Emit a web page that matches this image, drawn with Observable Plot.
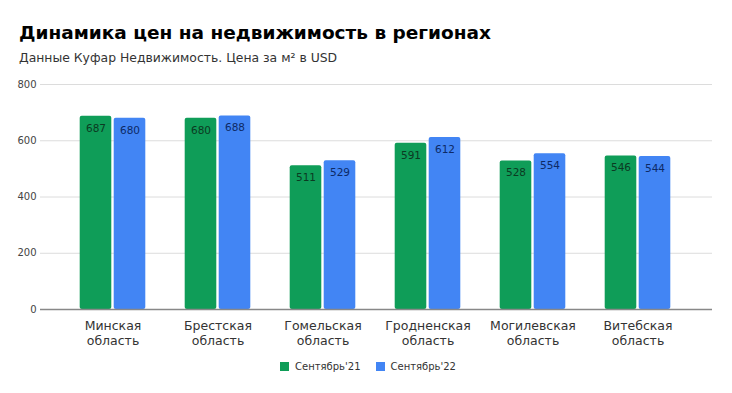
<!DOCTYPE html>
<html>
<head>
<meta charset="utf-8">
<script src="https://cdn.jsdelivr.net/npm/d3@7"></script>
<script src="https://cdn.jsdelivr.net/npm/@observablehq/plot@0.6"></script>
<style>
  body { margin: 0; background: #fff; font-family: "DejaVu Sans", sans-serif; }
  #wrap { width: 732px; height: 393px; position: relative; }
  h1 { position: absolute; left: 19px; top: 22px; margin: 0; font-size: 18.5px; font-weight: bold; color: #000; }
  .sub { position: absolute; left: 19px; top: 50px; margin: 0; font-size: 12.4px; color: #333; }
  #chart { position: absolute; left: 0; top: 70px; }
  .legend { position: absolute; top: 361px; left: 0; width: 732px; display: flex; justify-content: center; gap: 15px; font-size: 10px; color: #333; padding-left: 2px; }
  .legend span { display: inline-flex; align-items: center; }
  .legend i { display: inline-block; width: 9px; height: 9px; margin-right: 6px; }
</style>
</head>
<body>
<div id="wrap">
  <h1>Динамика цен на недвижимость в регионах</h1>
  <div class="sub">Данные Куфар Недвижимость. Цена за м² в USD</div>
  <div id="chart"></div>
  <div class="legend" id="legend"></div>
</div>
<script>
const regions = ["Минская область", "Брестская область", "Гомельская область", "Гродненская область", "Могилевская область", "Витебская область"];
const sep21 = [687, 680, 511, 591, 528, 546];
const sep22 = [680, 688, 529, 612, 554, 544];
const seriesNames = ["Сентябрь'21", "Сентябрь'22"];
const colors = ["#0f9d58", "#4285f4"];
const labelColors = ["#0b3a22", "#0d2a66"];
const yTicks = [0, 200, 400, 600, 800];

const d21 = regions.map((r, i) => ({region: r, value: sep21[i]}));
const d22 = regions.map((r, i) => ({region: r, value: sep22[i]}));

const chart = Plot.plot({
  width: 732,
  height: 285,
  marginLeft: 58,
  marginRight: 40,
  marginTop: 14,
  marginBottom: 46,
  style: { fontFamily: "DejaVu Sans, sans-serif", background: "transparent" },
  x: { domain: regions, padding: 0, label: null },
  y: { domain: [0, 800], label: null },
  marks: [
    Plot.ruleY(yTicks.filter(d => d > 0), { stroke: "#dcdcdc", insetLeft: -18, insetRight: -20 }),
    Plot.axisY({ ticks: yTicks, tickSize: 0, tickPadding: 22, fontSize: 10, fill: "#444", label: null }),
    Plot.axisX({ tickSize: 0, tickPadding: 9, fontSize: 12.5, fill: "#333", lineHeight: 1.25, label: null,
      tickFormat: d => d.replace(" ", "\n") }),
    Plot.barY(d21, { x: "region", y: "value", fill: colors[0], insetLeft: 19.7, insetRight: 53.7, rx: 2 }),
    Plot.barY(d22, { x: "region", y: "value", fill: colors[1], insetLeft: 53.7, insetRight: 19.7, rx: 2 }),
    Plot.text(d21, { x: "region", y: "value", text: d => String(d.value), dx: -17, dy: 12, fill: labelColors[0], fontSize: 10.5 }),
    Plot.text(d22, { x: "region", y: "value", text: d => String(d.value), dx: 17, dy: 12, fill: labelColors[1], fontSize: 10.5 }),
    Plot.ruleY([0], { stroke: "#888", strokeWidth: 1.5, insetLeft: -18, insetRight: -20 })
  ]
});
document.getElementById("chart").appendChild(chart);

const legend = document.getElementById("legend");
seriesNames.forEach((n, i) => {
  const s = document.createElement("span");
  s.innerHTML = `<i style="background:${colors[i]}"></i>${n}`;
  legend.appendChild(s);
});
</script>
</body>
</html>
